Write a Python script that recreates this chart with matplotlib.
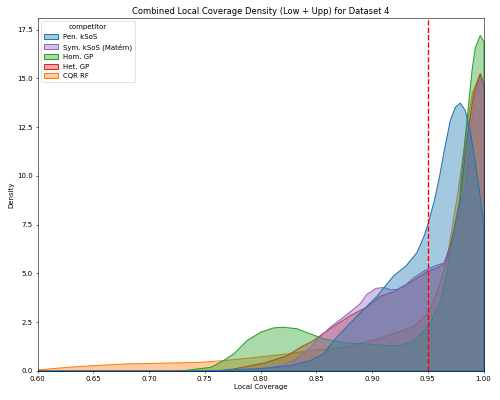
import matplotlib

matplotlib.use("Agg")
import matplotlib.pyplot as plt
from matplotlib.patches import Patch

# Density curves (x = local coverage, y = density)
competitors = ["Pen. kSoS", "Sym. kSoS (Matérn)", "Hom. GP", "Het. GP", "CQR RF"]
colors = ["#1f77b4", "#9467bd", "#2ca02c", "#d62728", "#ff7f0e"]

pen_x = [0.60, 0.74, 0.76, 0.78, 0.7995, 0.8264, 0.844, 0.8563, 0.862, 0.868, 0.877,
         0.889, 0.904, 0.919, 0.93, 0.94, 0.946, 0.95, 0.9555, 0.96, 0.9638, 0.9698,
         0.9743, 0.9788, 0.9832, 0.9875, 0.992, 0.9967, 1.0]
pen_y = [0.0, 0.0, 0.04, 0.09, 0.14, 0.29, 0.55, 0.89, 1.35, 1.75, 2.3,
         3.0, 3.85, 4.9, 5.4, 6.1, 6.9, 7.6, 8.76, 9.95, 11.16, 12.87,
         13.55, 13.76, 13.38, 12.36, 10.8, 8.93, 7.3]

sym_x = [0.60, 0.77, 0.785, 0.80, 0.8145, 0.8294, 0.8444, 0.853, 0.862, 0.87, 0.88,
         0.889, 0.895, 0.903, 0.91, 0.916, 0.922, 0.93, 0.937, 0.945, 0.95, 0.958,
         0.964, 0.97, 0.976, 0.9832, 0.9862, 0.9892, 0.992, 0.9967, 1.0]
sym_y = [0.0, 0.0, 0.08, 0.14, 0.25, 0.55, 1.23, 1.75, 2.26, 2.6, 3.05,
         3.47, 3.95, 4.25, 4.3, 4.18, 4.2, 4.45, 4.8, 5.1, 5.26, 5.45,
         5.55, 6.2, 7.6, 9.45, 11.16, 12.87, 14.07, 15.0, 14.4]

hom_x = [0.60, 0.72, 0.7279, 0.7547, 0.7637, 0.7756, 0.7876, 0.7995, 0.8115, 0.8204,
         0.8324, 0.8444, 0.8563, 0.865, 0.877, 0.89, 0.907, 0.922, 0.937, 0.95,
         0.961, 0.967, 0.971, 0.978, 0.9803, 0.9832, 0.9862, 0.9892, 0.9922, 0.9967, 1.0]
hom_y = [0.0, 0.0, 0.02, 0.2, 0.46, 0.89, 1.58, 2.0, 2.23, 2.26,
         2.18, 1.92, 1.66, 1.57, 1.45, 1.42, 1.35, 1.3, 1.55, 2.3,
         3.6, 5.1, 6.6, 8.76, 10.3, 12.0, 13.7, 15.4, 16.6, 17.23, 16.9]

het_x = [0.60, 0.76, 0.7756, 0.79, 0.805, 0.8234, 0.8354, 0.8474, 0.856, 0.865, 0.88,
         0.895, 0.907, 0.92, 0.935, 0.95, 0.958, 0.964, 0.97, 0.9788, 0.9832, 0.9871,
         0.9907, 0.9967, 1.0]
het_y = [0.0, 0.0, 0.12, 0.28, 0.46, 0.8, 1.23, 1.58, 1.95, 2.3, 2.85,
         3.3, 3.85, 4.1, 4.6, 5.15, 5.3, 5.5, 6.5, 8.76, 11.16, 12.87,
         14.24, 15.27, 14.75]

cqr_x = [0.60, 0.626, 0.65, 0.68, 0.70, 0.7457, 0.7667, 0.79, 0.8234, 0.844, 0.862,
         0.877, 0.907, 0.937, 0.95, 0.96, 0.967, 0.971, 0.977, 0.9815, 0.9855,
         0.9895, 0.9962, 1.0]
cqr_y = [0.07, 0.2, 0.29, 0.38, 0.40, 0.46, 0.55, 0.68, 0.89, 1.06, 1.15,
         1.25, 1.7, 2.3, 3.0, 4.4, 5.8, 7.2, 9.3, 11.16, 12.87,
         14.24, 15.22, 14.75]

curves = [(pen_x, pen_y), (sym_x, sym_y), (hom_x, hom_y), (het_x, het_y), (cqr_x, cqr_y)]

fig, ax = plt.subplots(figsize=(10, 8), dpi=50)
fig.subplots_adjust(left=0.075, right=0.967, bottom=0.073, top=0.955)

# draw last competitor first so the first one ends up on top (like seaborn)
for name, color, (xs, ys) in reversed(list(zip(competitors, colors, curves))):
    ax.fill_between(xs, 0, ys, facecolor=matplotlib.colors.to_rgba(color, 0.4),
                    edgecolor=color, linewidth=1.5)

ax.axvline(0.95, color="red", linestyle="--", linewidth=2)

ax.set_xlim(0.6, 1.0)
ax.set_ylim(0, 18.1)
ax.set_xlabel("Local Coverage")
ax.set_ylabel("Density")
ax.set_title("Combined Local Coverage Density (Low + Upp) for Dataset 4")

handles = [Patch(facecolor=matplotlib.colors.to_rgba(c, 0.4), edgecolor=c, linewidth=1.5)
           for c in colors]
ax.legend(handles, competitors, title="competitor", loc="upper left")

fig.savefig("out.png", dpi=50)
